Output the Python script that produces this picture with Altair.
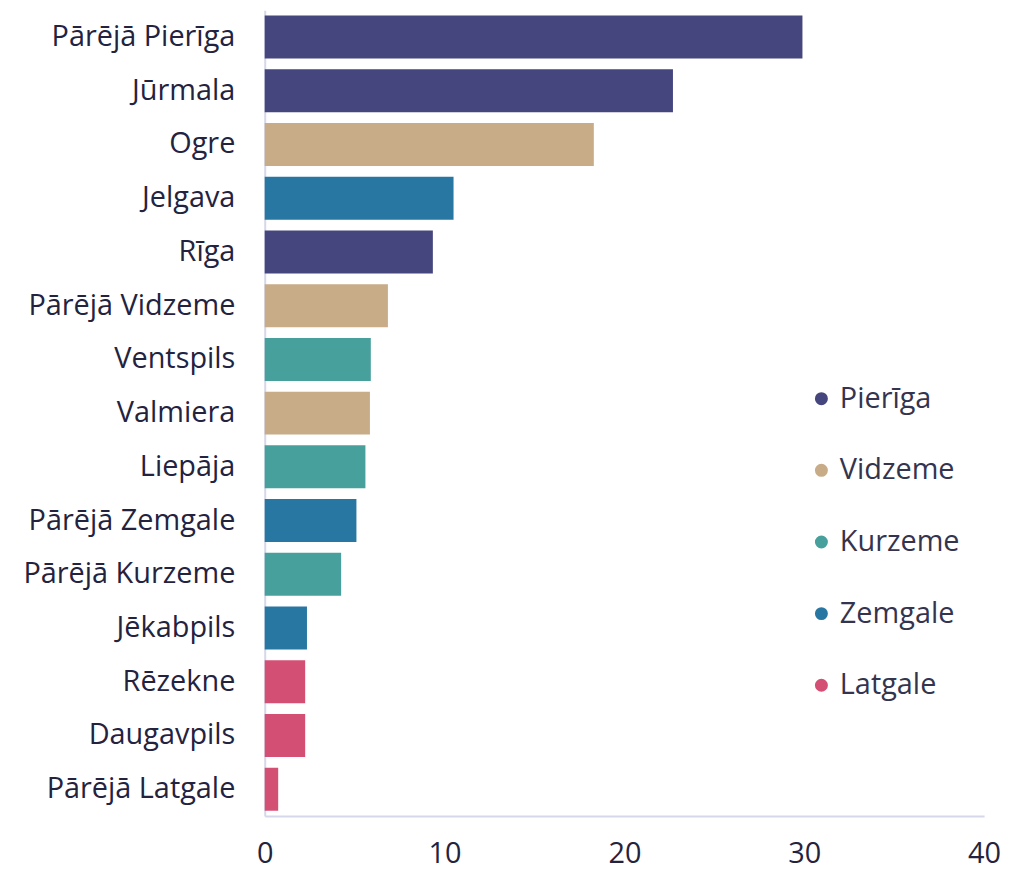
import altair as alt
import pandas as pd

categories = ["Pārējā Pierīga", "Jūrmala", "Ogre", "Jelgava", "Rīga", "Pārējā Vidzeme",
              "Ventspils", "Valmiera", "Liepāja", "Pārējā Zemgale", "Pārējā Kurzeme",
              "Jēkabpils", "Rēzekne", "Daugavpils", "Pārējā Latgale"]
values = [29.9, 22.7, 18.3, 10.5, 9.35, 6.85, 5.9, 5.85, 5.6, 5.1, 4.25, 2.35, 2.25, 2.25, 0.75]
regions = ["Pierīga", "Pierīga", "Vidzeme", "Zemgale", "Pierīga", "Vidzeme",
           "Kurzeme", "Vidzeme", "Kurzeme", "Zemgale", "Kurzeme",
           "Zemgale", "Latgale", "Latgale", "Latgale"]
region_order = ["Pierīga", "Vidzeme", "Kurzeme", "Zemgale", "Latgale"]
region_colors = ["#45467d", "#c8ab87", "#48a09d", "#2877a2", "#d44f74"]
x_ticks = [0, 10, 20, 30, 40]

df = pd.DataFrame({"cat": categories, "val": values, "region": regions})

FONT = "Open Sans"
TEXT = "#23233f"

chart = alt.Chart(df).mark_bar().encode(
    y=alt.Y("cat:N", sort=categories, title=None,
            scale=alt.Scale(paddingInner=0.2, paddingOuter=0.1),
            axis=alt.Axis(ticks=False, labelPadding=30, labelFontSize=29, labelFont=FONT,
                          labelLimit=500, labelColor=TEXT, domainColor="#d6d8ea", domainWidth=2)),
    x=alt.X("val:Q", title=None, scale=alt.Scale(domain=[0, 40]),
            axis=alt.Axis(values=x_ticks, ticks=False, grid=False, labelPadding=24,
                          labelFlush=False, labelFontSize=29, labelFont=FONT, labelColor=TEXT,
                          domainColor="#d6d8ea", domainWidth=2)),
    color=alt.Color("region:N", title=None,
                    scale=alt.Scale(domain=region_order, range=region_colors),
                    legend=alt.Legend(orient="none", legendX=545, legendY=376,
                                      symbolType="circle", symbolSize=170,
                                      labelFontSize=29, labelFont=FONT, labelColor="#34344f",
                                      rowPadding=42, labelOffset=4)),
).properties(width=723, height=810, padding={"left": 14, "top": 0, "right": 0, "bottom": 0}
).configure_view(stroke=None)

chart.save("out.html", embed_options={"renderer": "svg", "actions": False})
